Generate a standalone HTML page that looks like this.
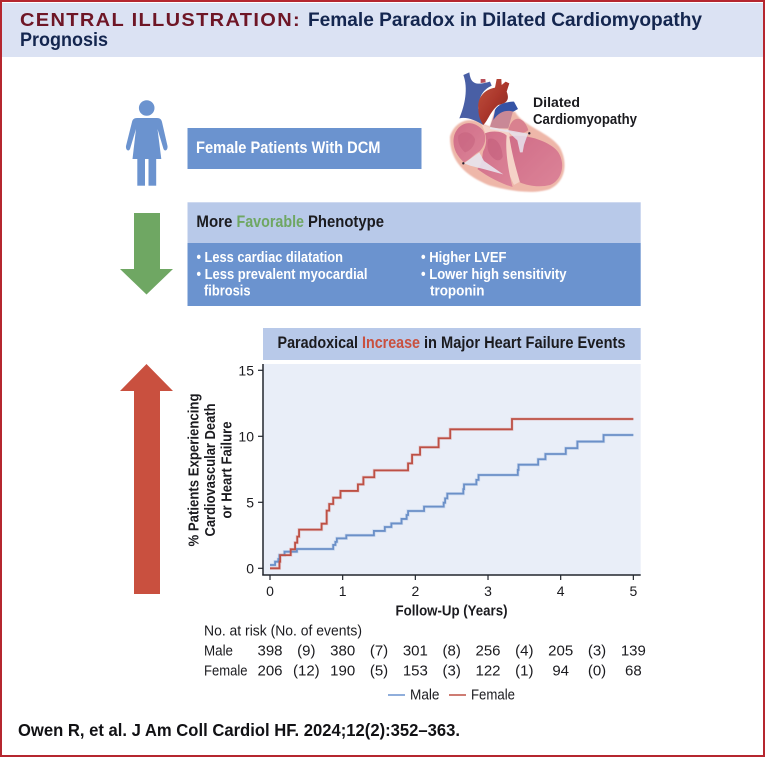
<!DOCTYPE html>
<html lang="en">
<head>
<meta charset="utf-8">
<title>Central Illustration: Female Paradox in Dilated Cardiomyopathy Prognosis</title>
<style>
html,body{margin:0;padding:0;background:#fff;}
svg{display:block;width:765px;height:757px;font-family:"Liberation Sans",sans-serif;}
</style>
</head>
<body>
<svg id="figure" xmlns="http://www.w3.org/2000/svg" width="765" height="757" viewBox="0 0 765 757">
  <defs>
    <linearGradient id="aortaGrad" x1="0" y1="0" x2="1" y2="1">
      <stop offset="0" stop-color="#c0533c"/><stop offset="0.5" stop-color="#ab372c"/><stop offset="1" stop-color="#7c2a2c"/>
    </linearGradient>
    <linearGradient id="chamberGrad" x1="0" y1="0" x2="1" y2="1">
      <stop offset="0" stop-color="#d06d88"/><stop offset="1" stop-color="#dc8498"/>
    </linearGradient>
    <filter id="soft" x="-5%" y="-5%" width="110%" height="110%"><feGaussianBlur stdDeviation="2"/></filter>
    <filter id="softer" x="-5%" y="-5%" width="110%" height="110%"><feGaussianBlur stdDeviation="1"/></filter>
  </defs>

  <rect x="0" y="0" width="765" height="757" fill="#ffffff"/>
  <rect x="2" y="3" width="761" height="54" fill="#dbe2f3"/>
  <text x="20" y="26" font-size="18" letter-spacing="1.2" font-weight="700" fill="#6e1626" textLength="281" lengthAdjust="spacingAndGlyphs">CENTRAL ILLUSTRATION:</text>
  <text x="308" y="26" font-size="19" font-weight="700" fill="#14264f" textLength="394" lengthAdjust="spacingAndGlyphs">Female Paradox in Dilated Cardiomyopathy</text>
  <text x="20" y="46" font-size="19" font-weight="700" fill="#14264f" textLength="88" lengthAdjust="spacingAndGlyphs">Prognosis</text>

  <g fill="#6b93cf">
    <circle cx="146.7" cy="108" r="7.8"/>
    <path d="M137,118 H157 C160,118 161.500,119.500 162,122 L167.500,146 C168,150 165,152 163.500,149 L157.500,129 L161.300,159 H132.500 L136,129 L130,149 C128.500,152 125.500,150 126,146 L132,122 C132.500,119.500 134,118 137,118 Z"/>
    <rect x="137.300" y="158" width="7.700" height="27.700"/>
    <rect x="148.500" y="158" width="7.700" height="27.700"/>
  </g>

  <rect x="187.500" y="128" width="234" height="41" fill="#6b93cf"/>
  <text x="196" y="153" font-size="16.500" font-weight="700" fill="#ffffff" textLength="184.500" lengthAdjust="spacingAndGlyphs">Female Patients With DCM</text>

  <g transform="translate(440,65) scale(0.3333)">
    <path filter="url(#soft)" fill="#eeb7a9" d="M30,215 C42,172 85,152 125,175 L150,185 L165,135 L225,140 C250,185 325,200 358,245 C385,290 378,350 330,372 C285,388 215,380 150,362 C95,340 28,300 30,215 Z"/>
    <g filter="url(#softer)">
      <path fill="#f5d3c8" d="M125,178 L150,188 L205,192 L240,350 L222,360 L195,300 L135,260 L140,215 Z"/>
      <path fill="url(#chamberGrad)" d="M43,210 C58,168 100,163 128,195 C142,215 136,240 120,258 C102,268 88,286 72,292 C46,270 35,240 43,210 Z"/>
      <path fill="#c45f7c" d="M55,212 C70,195 95,200 105,222 C105,243 90,258 75,262 C60,250 52,232 55,212 Z" opacity="0.5"/>
      <path fill="url(#chamberGrad)" d="M135,205 C160,195 190,200 200,212 C195,255 205,320 218,366 C190,358 150,340 112,312 C130,295 125,272 130,258 C140,240 140,220 135,205 Z"/>
      <path fill="#bf5a78" d="M145,222 C165,215 185,235 188,275 C180,295 160,285 148,265 C140,250 142,235 145,222 Z" opacity="0.5"/>
      <path fill="url(#chamberGrad)" d="M208,215 C250,205 322,225 352,258 C378,292 368,345 330,360 C298,368 262,362 240,352 C226,305 214,258 208,215 Z"/>
      <path fill="#d9818f" d="M205,196 C215,150 250,150 265,195 C255,207 225,208 205,196 Z"/>
      <path fill="#c98896" d="M150,185 L165,140 L220,135 L205,190 C190,190 170,192 150,185 Z"/>
      <path fill="#4a5fa5" d="M70,30 L88,22 C92,50 100,65 150,50 L155,62 C130,75 118,90 115,130 L130,180 C105,165 80,155 58,160 C75,120 85,70 70,30 Z"/>
      <path fill="#b8505a" d="M122,42 L136,42 L137,52 L122,54 Z"/>
      <path fill="url(#aortaGrad)" d="M115,130 C112,100 130,75 165,68 L170,42 L184,42 L185,60 L197,50 L208,55 L200,80 C208,100 205,115 175,120 C150,140 145,165 130,180 C120,165 115,150 115,130 Z"/>
      <path fill="#3653a5" d="M165,135 C175,115 205,110 222,110 L234,132 L220,140 C205,135 180,135 160,165 Z"/>
      <path fill="#e8e4ee" opacity="0.9" d="M72,295 L118,262 L132,288 L190,328 L130,312 L90,302 Z"/>
      <path fill="#e8e4ee" opacity="0.85" d="M198,194 L264,206 L252,240 L248,262 L240,262 L232,226 Z"/>
      <path fill="#e8e4ee" opacity="0.85" d="M150,186 L205,196 L205,202 L150,192 Z"/>
    </g>
    <circle cx="70" cy="295" r="3.500" fill="#2a2030"/><circle cx="268" cy="205" r="3.500" fill="#2a2030"/>
  </g>
  <text x="533" y="107" font-size="14" font-weight="700" fill="#1b1b1f" textLength="47" lengthAdjust="spacingAndGlyphs">Dilated</text>
  <text x="533" y="124" font-size="14.500" font-weight="700" fill="#1b1b1f" textLength="104" lengthAdjust="spacingAndGlyphs">Cardiomyopathy</text>

  <path fill="#6fa763" d="M134,213 H160 V269 H173 L146.500,294.500 L120,269 H134 Z"/>
  <path fill="#c9503f" d="M146.500,364 L173,391 H160 V594 H134 V391 H120 Z"/>

  <rect x="187.500" y="202.300" width="453.200" height="40.700" fill="#b8c9e9"/>
  <rect x="187.500" y="243" width="453.200" height="63" fill="#6b93cf"/>
  <g font-size="16.500" font-weight="700">
    <text x="196.400" y="227" fill="#1b1b1f" textLength="36" lengthAdjust="spacingAndGlyphs">More</text>
    <text x="236.500" y="227" fill="#6fa763" textLength="67.500" lengthAdjust="spacingAndGlyphs">Favorable</text>
    <text x="308" y="227" fill="#1b1b1f" textLength="76" lengthAdjust="spacingAndGlyphs">Phenotype</text>
  </g>
  <g font-size="15" font-weight="700" fill="#ffffff">
    <text x="196.500" y="262" textLength="146.500" lengthAdjust="spacingAndGlyphs">• Less cardiac dilatation</text>
    <text x="196.500" y="279" textLength="171" lengthAdjust="spacingAndGlyphs">• Less prevalent myocardial</text>
    <text x="204" y="295.500" textLength="46.500" lengthAdjust="spacingAndGlyphs">fibrosis</text>
    <text x="421" y="262" textLength="85.500" lengthAdjust="spacingAndGlyphs">• Higher LVEF</text>
    <text x="421" y="279" textLength="145.500" lengthAdjust="spacingAndGlyphs">• Lower high sensitivity</text>
    <text x="430" y="295.500" textLength="54.500" lengthAdjust="spacingAndGlyphs">troponin</text>
  </g>

  <rect x="263" y="328" width="377.700" height="32" fill="#b8c9e9"/>
  <g font-size="16.500" font-weight="700">
    <text x="277.500" y="348" fill="#1b1b1f" textLength="80.500" lengthAdjust="spacingAndGlyphs">Paradoxical</text>
    <text x="362" y="348" fill="#c9503f" textLength="58" lengthAdjust="spacingAndGlyphs">Increase</text>
    <text x="424" y="348" fill="#1b1b1f" textLength="201.500" lengthAdjust="spacingAndGlyphs">in Major Heart Failure Events</text>
  </g>

  <rect x="263" y="364" width="377.700" height="211" fill="#e9eef8"/>
  <g id="chart"></g>

  <text transform="translate(198.300,470) rotate(-90)" text-anchor="middle" font-size="15" font-weight="700" fill="#1b1b1f" textLength="153" lengthAdjust="spacingAndGlyphs">% Patients Experiencing</text>
  <text transform="translate(215,470) rotate(-90)" text-anchor="middle" font-size="15" font-weight="700" fill="#1b1b1f" textLength="133" lengthAdjust="spacingAndGlyphs">Cardiovascular Death</text>
  <text transform="translate(231.700,470) rotate(-90)" text-anchor="middle" font-size="15" font-weight="700" fill="#1b1b1f" textLength="97" lengthAdjust="spacingAndGlyphs">or Heart Failure</text>
  <text x="451.500" y="615.500" text-anchor="middle" font-size="14.500" font-weight="700" fill="#1b1b1f" textLength="112" lengthAdjust="spacingAndGlyphs">Follow-Up (Years)</text>

  <text x="204" y="635.500" font-size="15" fill="#1b1b1f" textLength="158" lengthAdjust="spacingAndGlyphs">No. at risk (No. of events)</text>
  <text x="204" y="655.500" font-size="15" fill="#1b1b1f" textLength="29" lengthAdjust="spacingAndGlyphs">Male</text>
  <text x="204" y="675.500" font-size="15" fill="#1b1b1f" textLength="43.500" lengthAdjust="spacingAndGlyphs">Female</text>
  <g id="riskTable"></g>

  <g font-size="15" fill="#1b1b1f">
    <line x1="388" x2="405" y1="695" y2="695" stroke="#6b93cf" stroke-width="1.500"/>
    <text x="410" y="699.500" textLength="29.500" lengthAdjust="spacingAndGlyphs">Male</text>
    <line x1="449" x2="466" y1="695" y2="695" stroke="#bd5045" stroke-width="1.500"/>
    <text x="471" y="699.500" textLength="44" lengthAdjust="spacingAndGlyphs">Female</text>
  </g>

  <text x="18" y="736" font-size="17.500" font-weight="700" fill="#111114" textLength="442" lengthAdjust="spacingAndGlyphs">Owen R, et al. J Am Coll Cardiol HF. 2024;12(2):352–363.</text>

  <rect x="1" y="1" width="763" height="755" fill="none" stroke="#b5262f" stroke-width="2"/>
</svg>

<script>
var maleYears = [0, 0.07, 0.115, 0.13, 0.2, 0.37, 0.87, 0.9, 0.92, 1.05, 1.43, 1.58, 1.67, 1.81, 1.88, 1.9, 2.12, 2.39, 2.41, 2.44, 2.66, 2.67, 2.84, 2.87, 3.41, 3.42, 3.69, 3.79, 4.07, 4.23, 4.59, 5];
var malePct = [0.25, 0.5, 0.7, 1.0, 1.26, 1.46, 1.77, 2.0, 2.27, 2.5, 2.83, 3.13, 3.4, 3.74, 4.04, 4.34, 4.67, 4.97, 5.3, 5.66, 6.0, 6.36, 6.7, 7.07, 7.45, 7.85, 8.26, 8.66, 9.1, 9.6, 10.1, 10.1];
var femaleYears = [0, 0.13, 0.14, 0.285, 0.345, 0.375, 0.4, 0.71, 0.78, 0.815, 0.87, 0.97, 1.21, 1.285, 1.435, 1.9, 1.955, 2.065, 2.32, 2.48, 3.33, 5];
var femalePct = [0, 0.5, 1.0, 1.44, 1.94, 2.4, 2.93, 3.38, 4.37, 4.87, 5.35, 5.86, 6.36, 6.9, 7.42, 7.95, 8.6, 9.17, 9.85, 10.53, 11.31, 11.31];
var xTickLabels = [0, 1, 2, 3, 4, 5];
var yTickLabels = [0, 5, 10, 15];
var riskMale = [398, 380, 301, 256, 205, 139];
var riskFemale = [206, 190, 153, 122, 94, 68];
var eventsMale = [9, 7, 8, 4, 3];
var eventsFemale = [12, 5, 3, 1, 0];

var NS = 'http://www.w3.org/2000/svg';
function xScale(t) { return 270 + 72.67 * t; }
function yScale(v) { return 568.3 - 13.2 * v; }

function stepPath(xs, ys) {
  var d = 'M' + xScale(xs[0]).toFixed(2) + ',' + yScale(ys[0]).toFixed(2);
  for (var i = 1; i < xs.length; i++) {
    d += 'H' + xScale(xs[i]).toFixed(2) + 'V' + yScale(ys[i]).toFixed(2);
  }
  return d;
}
function make(tag, attrs, parent, content) {
  var el = document.createElementNS(NS, tag);
  for (var k in attrs) { el.setAttribute(k, attrs[k]); }
  if (content !== undefined) { el.textContent = content; }
  parent.appendChild(el);
  return el;
}

var chart = document.getElementById('chart');
var table = document.getElementById('riskTable');

var haloMale = make('path', { d: stepPath(maleYears, malePct), fill: 'none', stroke: '#6b93cf', 'stroke-width': 3.2, opacity: 0.25 }, chart);


var haloFemale = make('path', { d: stepPath(femaleYears, femalePct), fill: 'none', stroke: '#d9685c', 'stroke-width': 3.2, opacity: 0.25 }, chart);



var maleLine = make('path', { d: stepPath(maleYears, malePct), fill: 'none', stroke: '#6b90c8', 'stroke-width': 1.8 }, chart);


var femaleLine = make('path', { d: stepPath(femaleYears, femalePct), fill: 'none', stroke: '#bd5045', 'stroke-width': 1.8 }, chart);



var yAxis = make('line', { x1: 263, x2: 263, y1: 364, y2: 575.5, stroke: '#22262e', 'stroke-width': 1.5 }, chart);


var xAxis = make('line', { x1: 262.3, x2: 640.7, y1: 575, y2: 575, stroke: '#22262e', 'stroke-width': 1.5 }, chart);



yTickLabels.forEach(function (v) {
  var tick = make('line', { x1: 258, x2: 263, y1: yScale(v), y2: yScale(v), stroke: '#22262e', 'stroke-width': 1.2 }, chart);
  
  
  var label = make('text', { x: 254, y: yScale(v) + 5, 'text-anchor': 'end', 'font-size': 14, fill: '#1b1b1f' }, chart, String(v));
  
  
});
xTickLabels.forEach(function (t) {
  var tick = make('line', { x1: xScale(t), x2: xScale(t), y1: 575, y2: 580, stroke: '#22262e', 'stroke-width': 1.2 }, chart);
  
  
  var label = make('text', { x: xScale(t), y: 596, 'text-anchor': 'middle', 'font-size': 14, fill: '#1b1b1f' }, chart, String(t));
  
  
});

function riskRow(values, events, baseline, rowName) {
  values.forEach(function (n, i) {
    var cell = make('text', { x: xScale(i), y: baseline, 'text-anchor': 'middle', 'font-size': 15, fill: '#1b1b1f' }, table, String(n));
    
    
  });
  events.forEach(function (n, i) {
    var cell = make('text', { x: xScale(i + 0.5), y: baseline, 'text-anchor': 'middle', 'font-size': 15, fill: '#1b1b1f' }, table, '(' + n + ')');
    
    
  });
}
riskRow(riskMale, eventsMale, 655.5, 'male');
riskRow(riskFemale, eventsFemale, 675.5, 'female');
</script>
</body>
</html>
